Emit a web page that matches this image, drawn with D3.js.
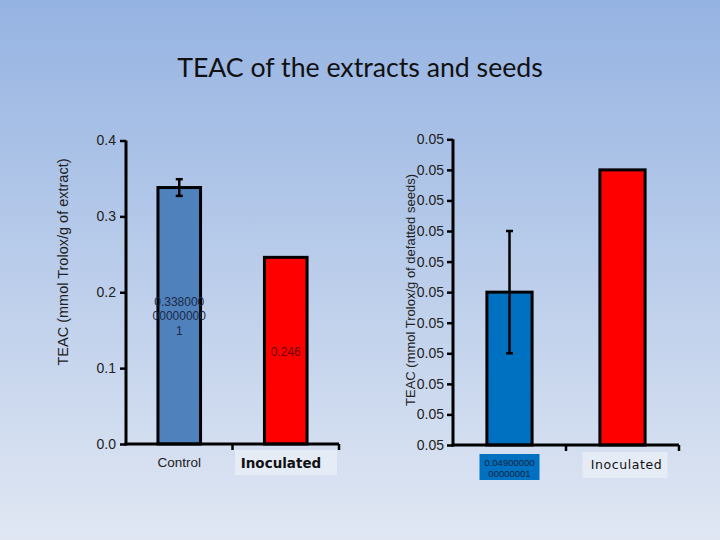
<!DOCTYPE html>
<html>
<head>
<meta charset="utf-8">
<script src="https://cdn.jsdelivr.net/npm/d3@7"></script>
<style>
  body { margin: 0; }
  svg text { font-family: 'Liberation Sans', Arial, sans-serif; }
</style>
</head>
<body>
<div id="chart"></div>
<script>
// left panel: extracts
const extractCategories = ['Control', 'Inoculated']
const extractValues = [0.338, 0.246]
const extractErrors = [0.011, 0]
const extractLabels = [['0.338000', '00000000', '1'], ['0.246']]
const extractTicks = [0, 0.1, 0.2, 0.3, 0.4]

// right panel: defatted seeds
const seedCategories = ['0.04900000 00000001', 'Inoculated']
const seedValues = [0.049, 0.051]
const seedErrors = [0.001, 0]
const seedTicks = [0.0465, 0.047, 0.0475, 0.048, 0.0485, 0.049, 0.0495, 0.05, 0.0505, 0.051, 0.0515]

const width = 720
const height = 540

const svg = d3
  .select('#chart')
  .append('svg')
  .attr('width', width)
  .attr('height', height)

const grad = svg
  .append('defs')
  .append('linearGradient')
  .attr('id', 'bg')
  .attr('x1', 0)
  .attr('y1', 0)
  .attr('x2', 0)
  .attr('y2', 1)
grad.append('stop').attr('offset', '0%').attr('stop-color', '#95b3e2')
grad.append('stop').attr('offset', '100%').attr('stop-color', '#e0e7f3')

svg
  .append('rect')
  .attr('width', width)
  .attr('height', height)
  .attr('fill', 'url(#bg)')

svg
  .append('text')
  .attr('x', 360)
  .attr('y', 77)
  .attr('text-anchor', 'middle')
  .style('font-family', 'Lato, sans-serif')
  .style('font-size', '26.7px')
  .attr('fill', '#111')
  .text('TEAC of the extracts and seeds')

// ---------- left chart ----------
const yL = d3.scaleLinear().domain([0, 0.4]).range([444, 140.5])
const xL = d3
  .scaleBand()
  .domain(extractCategories)
  .range([126, 339])
  .paddingInner(0.6)
  .paddingOuter(0.3)
const leftColors = ['#4f81bd', '#ff0000']

const gL = svg.append('g')

gL.selectAll('rect.bar')
  .data(extractValues)
  .enter()
  .append('rect')
  .attr('class', 'bar')
  .attr('x', (d, i) => xL(extractCategories[i]))
  .attr('width', xL.bandwidth())
  .attr('y', d => yL(d))
  .attr('height', d => yL(0) - yL(d))
  .attr('fill', (d, i) => leftColors[i])
  .attr('stroke', '#000')
  .attr('stroke-width', 3)

extractValues.forEach((v, i) => {
  const e = extractErrors[i]
  if (!e) return
  const cx = xL(extractCategories[i]) + xL.bandwidth() / 2
  gL.append('line')
    .attr('x1', cx).attr('x2', cx)
    .attr('y1', yL(v + e)).attr('y2', yL(v - e))
    .attr('stroke', '#000').attr('stroke-width', 2.5)
  ;[v + e, v - e].forEach(t => {
    gL.append('line')
      .attr('x1', cx - 3.5).attr('x2', cx + 3.5)
      .attr('y1', yL(t)).attr('y2', yL(t))
      .attr('stroke', '#000').attr('stroke-width', 2.5)
  })
})

// value labels inside bars
const leftLabelY = [301.5, 351.5]
extractLabels.forEach((lines, i) => {
  const cx = xL(extractCategories[i]) + xL.bandwidth() / 2
  lines.forEach((t, j) => {
    gL.append('text')
      .attr('x', cx)
      .attr('y', leftLabelY[i] + j * 14.5)
      .attr('dy', '0.35em')
      .attr('text-anchor', 'middle')
      .style('font-size', '12px')
      .attr('fill', i === 0 ? '#1c2a44' : '#6a0000')
      .text(t)
  })
})

const axisL = gL
  .append('g')
  .attr('transform', 'translate(126,0)')
  .call(
    d3.axisLeft(yL)
      .tickValues(extractTicks)
      .tickFormat(d3.format('.1f'))
      .tickSize(6)
      .tickPadding(4)
  )
axisL.select('.domain').attr('stroke-width', 3).attr('d', 'M0,' + yL(0.4) + 'V' + (yL(0) + 1.5))
axisL.selectAll('.tick line').attr('stroke-width', 2.5)
axisL.selectAll('.tick text').style('font-size', '14px').attr('fill', '#222')

const xAxisL = gL
  .append('g')
  .attr('transform', 'translate(0,444)')
xAxisL.append('line')
  .attr('x1', 124.5).attr('x2', 339)
  .attr('stroke', '#000').attr('stroke-width', 3)
;[xL.range()[0] + (xL.range()[1] - xL.range()[0]) / 2, xL.range()[1]].forEach(x => {
  xAxisL.append('line')
    .attr('x1', x).attr('x2', x).attr('y1', 0).attr('y2', 6)
    .attr('stroke', '#000').attr('stroke-width', 2.5)
})

// category labels
gL.append('text')
  .attr('x', xL('Control') + xL.bandwidth() / 2)
  .attr('y', 462)
  .attr('dy', '0.35em')
  .attr('text-anchor', 'middle')
  .style('font-size', '13.5px')
  .attr('fill', '#222')
  .text(extractCategories[0])
gL.append('rect')
  .attr('x', 235).attr('y', 450).attr('width', 102).attr('height', 25)
  .attr('fill', '#e6ecf6')
gL.append('text')
  .attr('x', 281)
  .attr('y', 463)
  .attr('dy', '0.35em')
  .attr('text-anchor', 'middle')
  .style('font-family', "'DejaVu Sans', sans-serif")
  .style('font-size', '13.5px')
  .style('font-weight', 'bold')
  .attr('fill', '#111')
  .text(extractCategories[1])

gL.append('text')
  .attr('transform', 'translate(63,262) rotate(-90)')
  .attr('text-anchor', 'middle')
  .attr('dy', '0.35em')
  .style('font-size', '14.5px')
  .attr('fill', '#222')
  .text('TEAC (mmol Trolox/g of extract)')

// ---------- right chart ----------
const yR = d3.scaleLinear().domain([0.0465, 0.0515]).range([445, 139.3])
const xR = d3
  .scaleBand()
  .domain(seedCategories)
  .range([453, 679])
  .paddingInner(0.6)
  .paddingOuter(0.3)
const rightColors = ['#0070c0', '#ff0000']

const gR = svg.append('g')

gR.selectAll('rect.bar')
  .data(seedValues)
  .enter()
  .append('rect')
  .attr('class', 'bar')
  .attr('x', (d, i) => xR(seedCategories[i]))
  .attr('width', xR.bandwidth())
  .attr('y', d => yR(d))
  .attr('height', d => yR(0.0465) - yR(d))
  .attr('fill', (d, i) => rightColors[i])
  .attr('stroke', '#000')
  .attr('stroke-width', 3)

seedValues.forEach((v, i) => {
  const e = seedErrors[i]
  if (!e) return
  const cx = xR(seedCategories[i]) + xR.bandwidth() / 2
  gR.append('line')
    .attr('x1', cx).attr('x2', cx)
    .attr('y1', yR(v + e)).attr('y2', yR(v - e))
    .attr('stroke', '#000').attr('stroke-width', 2.5)
  ;[v + e, v - e].forEach(t => {
    gR.append('line')
      .attr('x1', cx - 3.5).attr('x2', cx + 3.5)
      .attr('y1', yR(t)).attr('y2', yR(t))
      .attr('stroke', '#000').attr('stroke-width', 2.5)
  })
})

const axisR = gR
  .append('g')
  .attr('transform', 'translate(453,0)')
  .call(
    d3.axisLeft(yR)
      .tickValues(seedTicks)
      .tickFormat(d3.format('.2f'))
      .tickSize(6)
      .tickPadding(3)
  )
axisR.select('.domain').attr('stroke-width', 3).attr('d', 'M0,' + yR(0.0515) + 'V' + (yR(0.0465) + 1.5))
axisR.selectAll('.tick line').attr('stroke-width', 2.5)
axisR.selectAll('.tick text').style('font-size', '14px').attr('fill', '#222')

const xAxisR = gR
  .append('g')
  .attr('transform', 'translate(0,445)')
xAxisR.append('line')
  .attr('x1', 451.5).attr('x2', 679)
  .attr('stroke', '#000').attr('stroke-width', 3)
;[xR.range()[0] + (xR.range()[1] - xR.range()[0]) / 2, xR.range()[1]].forEach(x => {
  xAxisR.append('line')
    .attr('x1', x).attr('x2', x).attr('y1', 0).attr('y2', 6)
    .attr('stroke', '#000').attr('stroke-width', 2.5)
})

// category labels
const c0 = xR(seedCategories[0]) + xR.bandwidth() / 2
gR.append('rect')
  .attr('x', c0 - 30).attr('y', 454).attr('width', 60).attr('height', 26)
  .attr('fill', '#0070c0')
seedCategories[0].split(' ').forEach((t, j) => {
  gR.append('text')
    .attr('x', c0)
    .attr('y', 463 + j * 11)
    .attr('dy', '0.35em')
    .attr('text-anchor', 'middle')
    .style('font-size', '9.5px')
    .attr('fill', '#10243f')
    .text(t)
})
const c1 = xR(seedCategories[1]) + xR.bandwidth() / 2
gR.append('rect')
  .attr('x', c1 - 40).attr('y', 452).attr('width', 85).attr('height', 26)
  .attr('fill', '#e6ecf6')
gR.append('text')
  .attr('x', c1 + 4)
  .attr('y', 465)
  .attr('dy', '0.35em')
  .attr('text-anchor', 'middle')
  .style('font-family', "'DejaVu Sans', sans-serif")
  .style('font-size', '12.5px')
  .style('letter-spacing', '0.6px')
  .attr('fill', '#111')
  .text(seedCategories[1])

gR.append('text')
  .attr('transform', 'translate(410,290) rotate(-90)')
  .attr('text-anchor', 'middle')
  .attr('dy', '0.35em')
  .style('font-size', '13px')
  .attr('fill', '#222')
  .text('TEAC (mmol Trolox/g of defatted seeds)')
</script>
</body>
</html>
